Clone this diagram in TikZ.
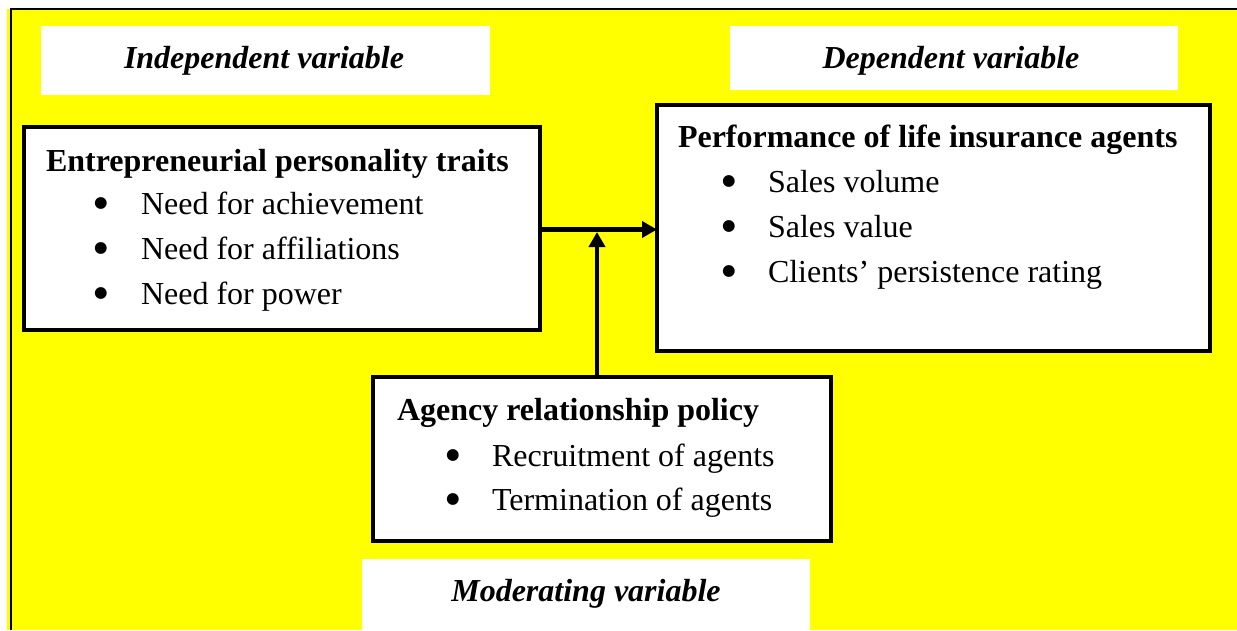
\documentclass[tikz,border=0pt]{standalone}
\usepackage{fontspec}
\setmainfont{Liberation Serif}
\newfontfamily\markfont{DejaVu Sans}
\usetikzlibrary{arrows.meta}
\definecolor{bgyellow}{RGB}{255,255,0}
\begin{document}
\begin{tikzpicture}[x=1pt,y=-1pt,
  every node/.style={inner sep=0pt,outer sep=0pt},
  txt/.style={anchor=base west,font=\fontsize{32}{38}\selectfont},
  head/.style={anchor=base west,font=\fontsize{32}{38}\selectfont\bfseries},
  dot/.style={anchor=center,yshift=1.5pt,font=\markfont\fontsize{15.5}{18}\selectfont},
  frame/.style={draw=black,line width=4.5pt,fill=white,anchor=north west},
  tag/.style={fill=white,anchor=north west},
  tagtext/.style={anchor=base,font=\fontsize{32}{38}\selectfont\bfseries\itshape},
  link/.style={line width=4.5pt,-{Triangle[length=15pt,width=16pt]}}
]
\useasboundingbox (0,0) rectangle (1237,630);

% background panel with its left and top rule
\fill[bgyellow] (7,9) rectangle (1237,630);
\draw[line width=2pt] (10.5,630) -- (10.5,8.5) -- (1237,8.5);

% white caption panels
\node[tag,minimum width=449pt,minimum height=69pt] (tagiv) at (41,26) {};
\node[tag,minimum width=448pt,minimum height=64pt] (tagdv) at (730,26) {};
\node[tag,minimum width=448pt,minimum height=71pt] (tagmv) at (362,559) {};
\node[tagtext] (tiv) at (264,68.5) {Independent variable};
\node[tagtext] (tdv) at (951,68.5) {Dependent variable};
\node[tagtext] (tmv) at (586,601) {Moderating variable};

% variable boxes
\node[frame,minimum width=516pt,minimum height=203pt] (iv) at (24,127) {};
\node[frame,minimum width=553pt,minimum height=246pt] (dv) at (657,105) {};
\node[frame,minimum width=458pt,minimum height=164pt] (mv) at (373,377) {};

% independent variable contents
\node[head] (ivh) at (46,171) {Entrepreneurial personality traits};
\node[dot] (ivb1) at (101,205) {●};
\node[txt] (ivt1) at (141,214) {Need for achievement};
\node[dot] (ivb2) at (101,250) {●};
\node[txt] (ivt2) at (141,259) {Need for affiliations};
\node[dot] (ivb3) at (101,295) {●};
\node[txt] (ivt3) at (141,304) {Need for power};

% dependent variable contents
\node[head] (dvh) at (678,147) {Performance of life insurance agents};
\node[dot] (dvb1) at (729,183) {●};
\node[txt] (dvt1) at (768,192) {Sales volume};
\node[dot] (dvb2) at (729,228) {●};
\node[txt] (dvt2) at (768,237) {Sales value};
\node[dot] (dvb3) at (729,273) {●};
\node[txt] (dvt3) at (768,282) {Clients’ persistence rating};

% moderating variable contents
\node[head] (mvh) at (397,420) {Agency relationship policy};
\node[dot] (mvb1) at (453,457) {●};
\node[txt] (mvt1) at (492,466) {Recruitment of agents};
\node[dot] (mvb2) at (453,501) {●};
\node[txt] (mvt2) at (492,510) {Termination of agents};

% connectors
\coordinate (junction) at (597,229.5);
\draw[link] (iv.east |- junction) -- (dv.west |- junction);
\draw[link] (mv.north -| junction) -- ([yshift=-2.5pt]junction);
\end{tikzpicture}
\end{document}
